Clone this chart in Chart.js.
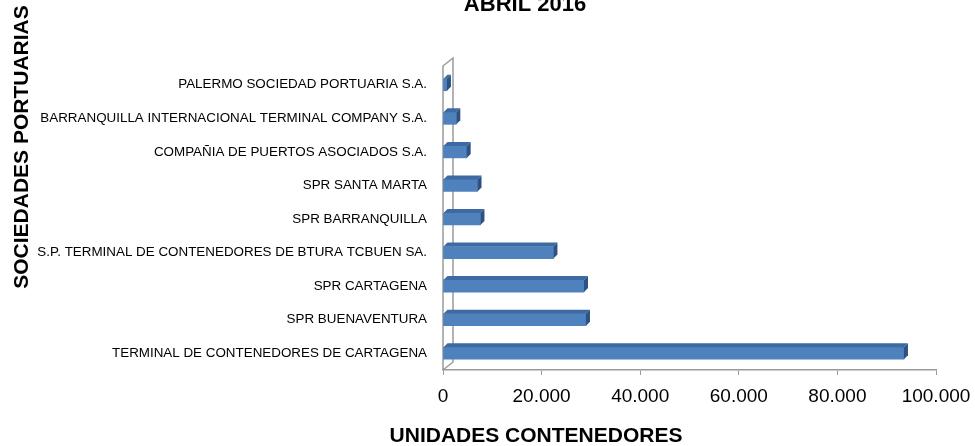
<!DOCTYPE html>
<html>
<head>
<meta charset="utf-8">
<script src="https://cdn.jsdelivr.net/npm/chart.js@4"></script>
<style>
    html, body { margin: 0; padding: 0; background: #fff; }
    #wrap { width: 975px; height: 446px; }
</style>
</head>
<body>
<div id="wrap"><canvas id="portChart" width="975" height="446"></canvas></div>
<script>
const sociedades = [
    'PALERMO SOCIEDAD PORTUARIA S.A.',
    'BARRANQUILLA INTERNACIONAL TERMINAL COMPANY S.A.',
    'COMPAÑIA DE PUERTOS ASOCIADOS S.A.',
    'SPR SANTA MARTA',
    'SPR BARRANQUILLA',
    'S.P. TERMINAL DE CONTENEDORES DE BTURA TCBUEN SA.',
    'SPR CARTAGENA',
    'SPR BUENAVENTURA',
    'TERMINAL DE CONTENEDORES DE CARTAGENA'
];
const unidades = [800, 2700, 4800, 7000, 7600, 22400, 28600, 29000, 93500];
const xTicks = [0, 20000, 40000, 60000, 80000, 100000];

const chartTitle = 'ABRIL 2016';
const yTitle = 'SOCIEDADES PORTUARIAS';
const xTitle = 'UNIDADES CONTENEDORES';

const DEPTH = 4;

// fake 3D look: back wall + top/right faces on each bar
const bars3d = {
    id: 'bars3d',
    beforeDatasetsDraw(chart) {
        const { ctx, chartArea } = chart;
        const l = chartArea.left, t = chartArea.top, b = chartArea.bottom;
        ctx.save();
        ctx.strokeStyle = '#9a9a9a';
        ctx.lineWidth = 1.5;
        ctx.beginPath();
        ctx.moveTo(l, b);
        ctx.lineTo(l, t - 2);
        ctx.lineTo(l + 10, t - 10);
        ctx.lineTo(l + 10, b - 8);
        ctx.lineTo(l, b);
        ctx.stroke();
        ctx.restore();
    },
    afterDatasetsDraw(chart) {
        const { ctx } = chart;
        const meta = chart.getDatasetMeta(0);
        ctx.save();
        meta.data.forEach(bar => {
            const p = bar.getProps(['x', 'y', 'base', 'height'], true);
            const top = p.y - p.height / 2;
            const bot = p.y + p.height / 2;
            // top face
            ctx.fillStyle = '#3d6aa3';
            ctx.beginPath();
            ctx.moveTo(p.base, top);
            ctx.lineTo(p.base + DEPTH, top - DEPTH);
            ctx.lineTo(p.x + DEPTH, top - DEPTH);
            ctx.lineTo(p.x, top);
            ctx.closePath();
            ctx.fill();
            // right face
            ctx.fillStyle = '#2c5283';
            ctx.beginPath();
            ctx.moveTo(p.x, top);
            ctx.lineTo(p.x + DEPTH, top - DEPTH);
            ctx.lineTo(p.x + DEPTH, bot - DEPTH);
            ctx.lineTo(p.x, bot);
            ctx.closePath();
            ctx.fill();
        });
        ctx.restore();
    },
    afterDraw(chart) {
        const { ctx } = chart;
        ctx.save();
        ctx.fillStyle = '#000';
        ctx.textAlign = 'center';
        ctx.textBaseline = 'alphabetic';
        ctx.font = 'bold 22px "Liberation Sans", Arial, sans-serif';
        ctx.fillText(chartTitle, 525, 11);

        ctx.font = 'bold 21px "Liberation Sans", Arial, sans-serif';
        ctx.textBaseline = 'middle';
        ctx.fillText(xTitle, 536, 436);

        ctx.translate(22, 147);
        ctx.rotate(-Math.PI / 2);
        ctx.font = 'bold 21px "Liberation Sans", Arial, sans-serif';
        ctx.fillText(yTitle, 0, 0);
        ctx.restore();
    }
};

const ctx = document.getElementById('portChart').getContext('2d');

new Chart(ctx, {
    type: 'bar',
    data: {
        labels: sociedades,
        datasets: [{
            data: unidades,
            backgroundColor: '#4f81bd',
            borderWidth: 0,
            barThickness: 12
        }]
    },
    options: {
        indexAxis: 'y',
        responsive: false,
        animation: false,
        layout: { padding: { top: 68, right: 39, left: 0, bottom: 0 } },
        plugins: {
            legend: { display: false },
            tooltip: { enabled: false }
        },
        scales: {
            x: {
                min: 0,
                max: 100000,
                afterFit: scale => {
                    scale.height = 76;
                    scale.paddingLeft = 0;
                    scale.paddingRight = 0;
                },
                afterBuildTicks: scale => { scale.ticks = xTicks.map(v => ({ value: v })); },
                grid: {
                    drawOnChartArea: false,
                    drawTicks: true,
                    tickLength: 5,
                    color: '#9a9a9a'
                },
                border: { display: true, color: '#9a9a9a', width: 1.5 },
                ticks: {
                    color: '#000',
                    padding: 10,
                    font: { family: "'Liberation Sans', Arial, sans-serif", size: 19 },
                    callback: v => v === 0 ? '0' : v.toLocaleString('de-DE')
                }
            },
            y: {
                afterFit: scale => { scale.width = 443; },
                grid: { display: false, drawTicks: false },
                border: { display: false },
                ticks: {
                    color: '#000',
                    padding: 16,
                    font: { family: "'Liberation Sans', Arial, sans-serif", size: 13.4 }
                }
            }
        }
    },
    plugins: [bars3d]
});
</script>
</body>
</html>
